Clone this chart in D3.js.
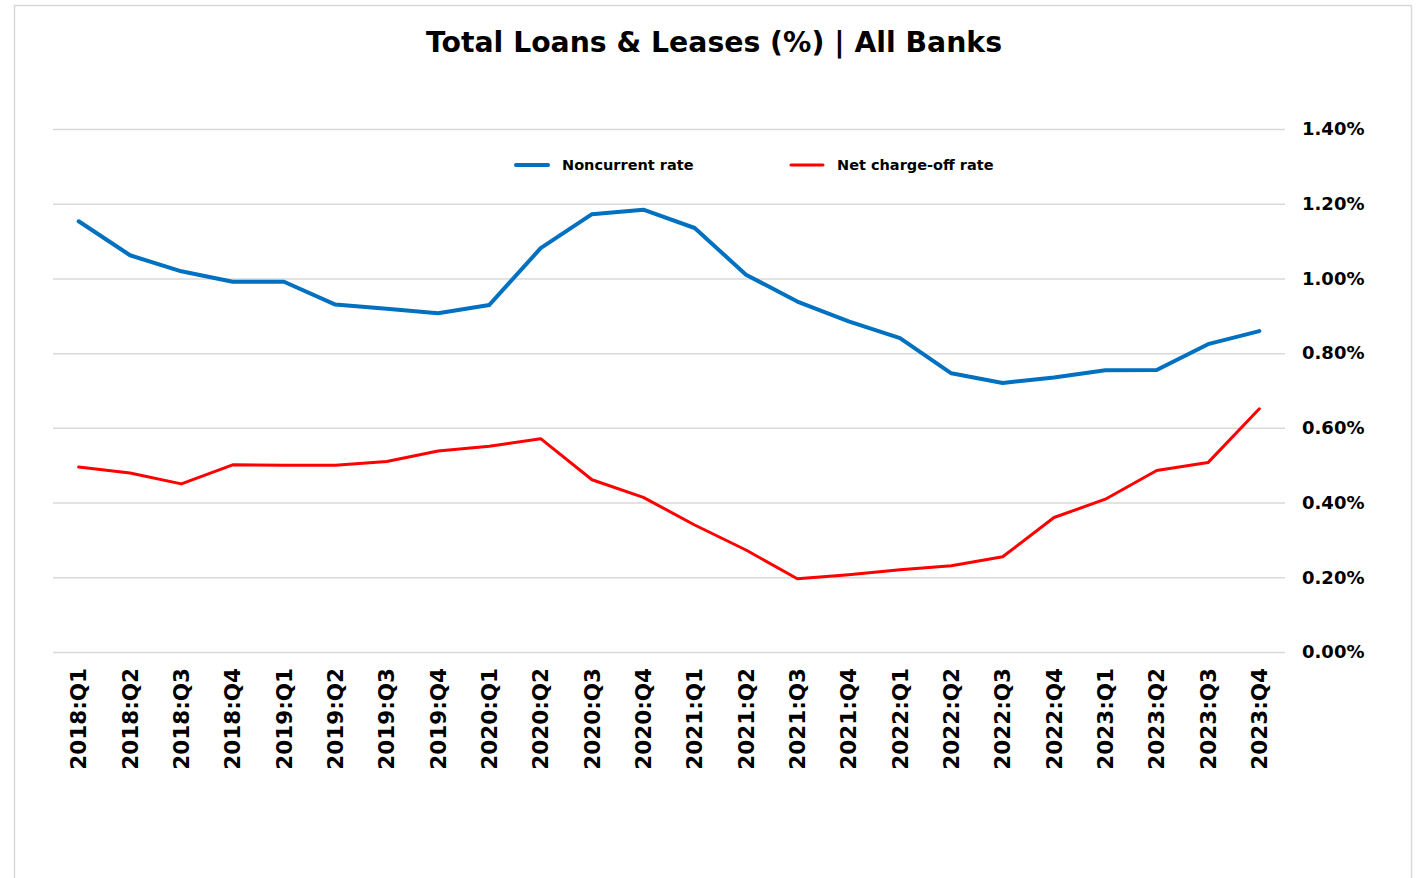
<!DOCTYPE html>
<html>
<head>
<meta charset="utf-8">
<script src="https://cdn.jsdelivr.net/npm/d3@7"></script>
<style>
  html, body { margin: 0; padding: 0; background: #fff; }
  svg { display: block; }
  text { font-family: "DejaVu Sans", Verdana, sans-serif; font-weight: bold; fill: #000; }
</style>
</head>
<body>
<svg id="chart" width="1420" height="878"></svg>
<script>
// Quarterly periods
const quarters = [
  "2018:Q1","2018:Q2","2018:Q3","2018:Q4",
  "2019:Q1","2019:Q2","2019:Q3","2019:Q4",
  "2020:Q1","2020:Q2","2020:Q3","2020:Q4",
  "2021:Q1","2021:Q2","2021:Q3","2021:Q4",
  "2022:Q1","2022:Q2","2022:Q3","2022:Q4",
  "2023:Q1","2023:Q2","2023:Q3","2023:Q4"
];

// Noncurrent rate (%)
const noncurrentRate = [
  1.153, 1.062, 1.019, 0.991,
  0.991, 0.930, 0.919, 0.907,
  0.929, 1.081, 1.172, 1.184,
  1.135, 1.010, 0.938, 0.885,
  0.840, 0.746, 0.720, 0.735,
  0.754, 0.755, 0.824, 0.859
];

// Net charge-off rate (%)
const netChargeOffRate = [
  0.495, 0.479, 0.450, 0.501,
  0.500, 0.500, 0.510, 0.538,
  0.551, 0.571, 0.461, 0.414,
  0.340, 0.273, 0.196, 0.207,
  0.220, 0.231, 0.255, 0.360,
  0.409, 0.486, 0.507, 0.651
];

// Y axis ticks (%)
const yTicks = [0, 0.2, 0.4, 0.6, 0.8, 1.0, 1.2, 1.4];

const seriesNames = ["Noncurrent rate", "Net charge-off rate"];
const seriesColors = ["#0070c0", "#ff0000"];
const seriesWidths = [4, 3];

const svg = d3.select("#chart");

// outer frame
svg.append("rect")
  .attr("x", 14.5).attr("y", 5.5)
  .attr("width", 1397).attr("height", 900)
  .attr("fill", "none")
  .attr("stroke", "#d9d9d9")
  .attr("stroke-width", 1.5);

const plotLeft = 53, plotRight = 1285, plotTop = 129, plotBottom = 652;

const x = d3.scaleBand().domain(quarters).range([plotLeft, plotRight]);
const xc = d => x(d) + x.bandwidth() / 2;
const y = d3.scaleLinear().domain([0, 1.4]).range([plotBottom, plotTop]);

// title
svg.append("text")
  .attr("x", 714).attr("y", 52)
  .attr("text-anchor", "middle")
  .style("font-size", "28.3px")
  .text("Total Loans & Leases (%) | All Banks");

// gridlines + right-side labels
const yAxis = d3.axisRight(y)
  .tickValues(yTicks)
  .tickSize(-(plotRight - plotLeft))
  .tickPadding(17)
  .tickFormat(d => d.toFixed(2) + "%");

const gy = svg.append("g")
  .attr("transform", `translate(${plotRight},0)`)
  .call(yAxis);
gy.select(".domain").remove();
gy.selectAll(".tick line")
  .attr("stroke", "#d9d9d9")
  .attr("stroke-width", 1.5);
gy.selectAll(".tick text")
  .attr("x", 17)
  .style("font-size", "18px")
  .style("font-family", "'DejaVu Sans', Verdana, sans-serif")
  .style("font-weight", "bold")
  .attr("fill", "#000")
  .attr("text-anchor", "start");

// category labels, rotated
const xAxis = d3.axisBottom(x).tickSize(0).tickPadding(0);
const gx = svg.append("g")
  .attr("transform", `translate(0,${plotBottom})`)
  .call(xAxis);
gx.select(".domain").remove();
gx.selectAll(".tick text")
  .attr("transform", "rotate(-90)")
  .attr("x", -16)
  .attr("y", 0)
  .attr("dy", "0.36em")
  .attr("text-anchor", "end")
  .style("font-size", "21.5px")
  .style("font-family", "'DejaVu Sans', Verdana, sans-serif")
  .style("font-weight", "bold")
  .attr("fill", "#000");

// series lines
const line = d3.line()
  .x((d, i) => xc(quarters[i]))
  .y(d => y(d));

[noncurrentRate, netChargeOffRate].forEach((vals, k) => {
  svg.append("path")
    .datum(vals)
    .attr("d", line)
    .attr("fill", "none")
    .attr("stroke", seriesColors[k])
    .attr("stroke-width", seriesWidths[k])
    .attr("stroke-linejoin", "round")
    .attr("stroke-linecap", "round");
});

// legend
const legendItems = [
  { x: 516, textX: 562 },
  { x: 791, textX: 837 }
];
legendItems.forEach((it, k) => {
  svg.append("line")
    .attr("x1", it.x).attr("x2", it.x + 32)
    .attr("y1", 165).attr("y2", 165)
    .attr("stroke", seriesColors[k])
    .attr("stroke-width", seriesWidths[k])
    .attr("stroke-linecap", "round");
  svg.append("text")
    .attr("x", it.textX).attr("y", 165)
    .attr("dy", "0.36em")
    .style("font-size", "14.5px")
    .text(seriesNames[k]);
});
</script>
</body>
</html>
